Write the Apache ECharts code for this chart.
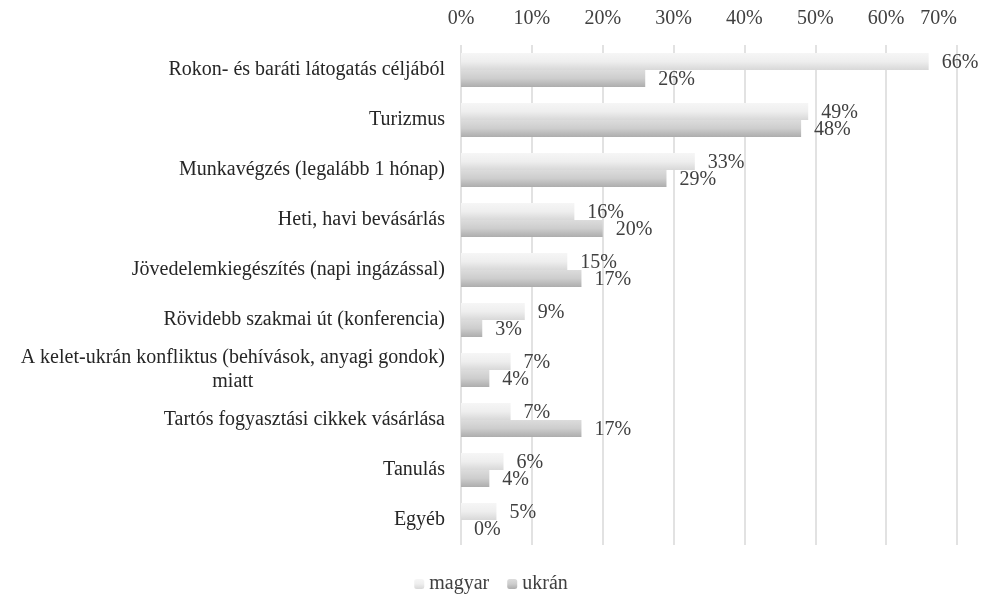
<!DOCTYPE html>
<html><head><meta charset="utf-8">
<script src="https://cdn.jsdelivr.net/npm/echarts@6/dist/echarts.min.js"></script>
<style>html,body{margin:0;padding:0;background:#fff}#c{width:982px;height:599px}</style>
</head><body><div id="c"></div>
<script>
const categories = [
  "Rokon- és baráti látogatás céljából",
  "Turizmus",
  "Munkavégzés (legalább 1 hónap)",
  "Heti, havi bevásárlás",
  "Jövedelemkiegészítés (napi ingázással)",
  "Rövidebb szakmai út (konferencia)",
  "A kelet-ukrán konfliktus (behívások, anyagi gondok)\nmiatt",
  "Tartós fogyasztási cikkek vásárlása",
  "Tanulás",
  "Egyéb"
];
const magyar = [66, 49, 33, 16, 15, 9, 7, 7, 6, 5];
const ukran = [26, 48, 29, 20, 17, 3, 4, 17, 4, 0];
const seriesNames = ["magyar", "ukrán"];

const font = "'Liberation Serif', 'Times New Roman', serif";
const FS = 20;
const gradM = new echarts.graphic.LinearGradient(0,0,0,1,[{offset:0,color:'#f6f6f6'},{offset:0.5,color:'#eeeeee'},{offset:1,color:'#d8d8d8'}]);
const gradU = new echarts.graphic.LinearGradient(0,0,0,1,[{offset:0,color:'#dcdcdc'},{offset:0.5,color:'#cdcdcd'},{offset:1,color:'#adadad'}]);

const chart = echarts.init(document.getElementById('c'));
chart.setOption({
  animation: false,
  backgroundColor: '#fff',
  textStyle: { fontFamily: font },
  grid: { left: 461, right: 25, top: 45, bottom: 54, containLabel: false },
  legend: {
    top: 569, left: 'center',
    itemWidth: 10, itemHeight: 10, itemGap: 18,
    textStyle: { fontFamily: font, fontSize: FS, color: '#404040' },
    data: seriesNames
  },
  xAxis: {
    type: 'value', position: 'top', min: 0, max: 70, interval: 10,
    axisLabel: { formatter: '{value}%', fontFamily: font, fontSize: FS, color: '#404040', margin: 16, alignMaxLabel: 'right' },
    axisLine: { show: false }, axisTick: { show: false },
    splitLine: { lineStyle: { color: '#d9d9d9', width: 1.5 } }
  },
  yAxis: {
    type: 'category', inverse: true, data: categories,
    axisLine: { show: false }, axisTick: { show: false },
    axisLabel: {
      fontFamily: font, fontSize: FS, color: '#262626', margin: 16,
      formatter: function (v) {
        if (v.indexOf('\n') >= 0) {
          const p = v.split('\n');
          return '{a|' + p[0] + '}\n{b|' + p[1] + '}';
        }
        return v;
      },
      rich: {
        a: { fontFamily: font, fontSize: FS, color: '#262626', lineHeight: 24 },
        b: { fontFamily: font, fontSize: FS, color: '#262626', lineHeight: 24, align: 'center' }
      }
    }
  },
  series: [
    {
      name: seriesNames[0], type: 'bar', data: magyar,
      barGap: '0%', barCategoryGap: '32%',
      itemStyle: { color: gradM },
      label: { show: true, position: 'right', formatter: '{c}%', fontFamily: font, fontSize: FS, color: '#404040', distance: 13, offset: [0, 1] }
    },
    {
      name: seriesNames[1], type: 'bar', data: ukran,
      itemStyle: { color: gradU },
      label: { show: true, position: 'right', formatter: '{c}%', fontFamily: font, fontSize: FS, color: '#404040', distance: 13, offset: [0, 1] }
    }
  ]
});
</script></body></html>
